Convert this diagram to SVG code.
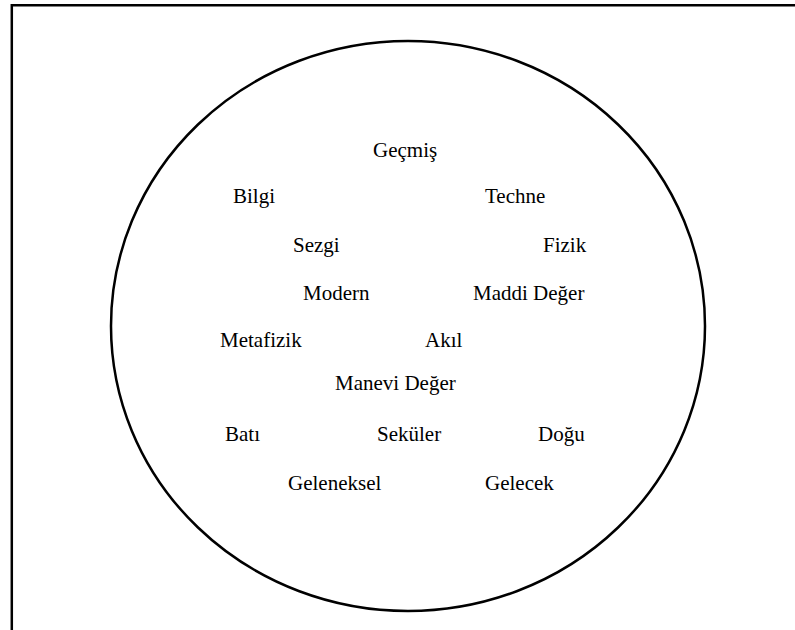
<svg xmlns="http://www.w3.org/2000/svg" width="795" height="630" viewBox="0 0 795 630">
<style>
.t{font-family:"Liberation Serif","Times New Roman",serif;font-size:21px;fill:#000}
.b{stroke:#000;stroke-width:2.5;fill:none}
</style>
<rect width="795" height="630" fill="#fff"/>
<path class="b" d="M11.8,630 V5.3 H795"/>
<g id="circle"><ellipse cx="408" cy="326" rx="297" ry="285" fill="none" stroke="#000" stroke-width="2.5"/></g>
<g id="connectors"></g>
<g id="n-gecmis"><text class="t" x="373" y="157">Geçmiş</text></g>
<g id="n-bilgi"><text class="t" x="233" y="203">Bilgi</text></g>
<g id="n-techne"><text class="t" x="485" y="203">Techne</text></g>
<g id="n-sezgi"><text class="t" x="293" y="252">Sezgi</text></g>
<g id="n-fizik"><text class="t" x="543" y="252">Fizik</text></g>
<g id="n-modern"><text class="t" x="303" y="300">Modern</text></g>
<g id="n-maddi"><text class="t" x="473" y="300">Maddi Değer</text></g>
<g id="n-metafizik"><text class="t" x="220" y="347">Metafizik</text></g>
<g id="n-akil"><text class="t" x="425" y="347">Akıl</text></g>
<g id="n-manevi"><text class="t" x="335" y="390">Manevi Değer</text></g>
<g id="n-bati"><text class="t" x="225" y="441">Batı</text></g>
<g id="n-sekuler"><text class="t" x="377" y="441">Seküler</text></g>
<g id="n-dogu"><text class="t" x="538" y="441">Doğu</text></g>
<g id="n-geleneksel"><text class="t" x="288" y="490">Geleneksel</text></g>
<g id="n-gelecek"><text class="t" x="485" y="490">Gelecek</text></g>
</svg>
